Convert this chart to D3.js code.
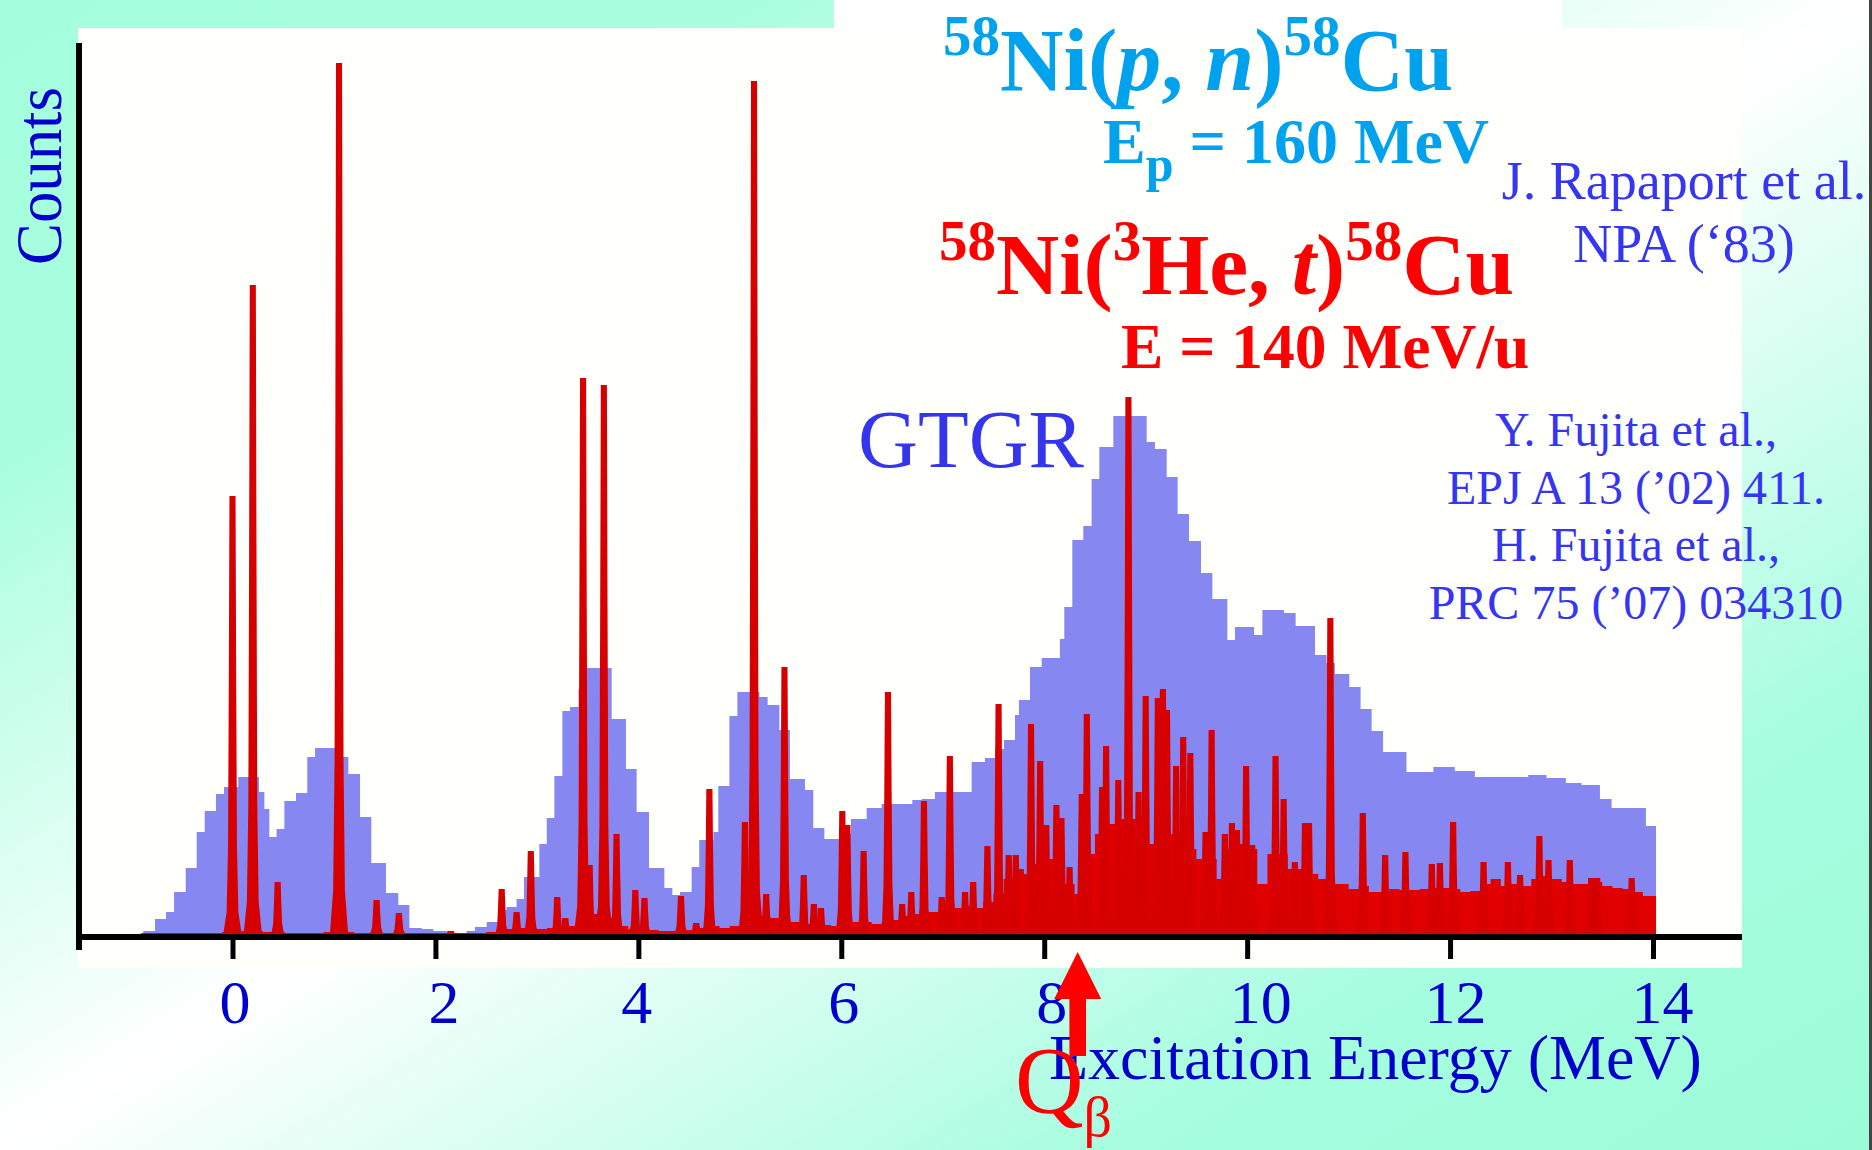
<!DOCTYPE html>
<html>
<head>
<meta charset="utf-8">
<title>58Ni(p,n) / 58Ni(3He,t) spectra</title>
<script src="https://cdn.jsdelivr.net/npm/d3@7"></script>
<style>
    html, body { margin: 0; padding: 0; background: #fff; }
    svg { display: block; font-family: "Liberation Serif", "Times New Roman", serif; }
    text { white-space: pre; }
</style>
</head>
<body>
<div id="chart"></div>
<script>
(function () {
    'use strict';

    // (p,n) histogram, step edges in MeV and the counts of each step
    var blueEdges = [-0.879, -0.764, -0.655, -0.576, -0.461, -0.353, -0.274, -0.163, -0.084, 0.057,
        0.261, 0.314, 0.363, 0.435, 0.511, 0.626, 0.737, 0.813, 1.01, 1.142,
        1.257, 1.368, 1.513, 1.634, 1.743, 1.865, 1.979, 2.11, 2.308, 2.39,
        2.505, 2.62, 2.70, 2.80, 2.873, 3.024, 3.097, 3.172, 3.251, 3.327,
        3.41, 3.49, 3.737, 3.878, 3.983, 4.105, 4.256, 4.335, 4.41, 4.525,
        4.6, 4.739, 4.788, 4.897, 4.976, 5.193, 5.274, 5.39, 5.494, 5.642,
        5.724, 5.833, 5.98, 6.095, 6.25, 6.398, 6.70, 6.792, 6.923, 7.285,
        7.416, 7.515, 7.603, 7.712, 7.751, 7.86, 7.975, 8.155, 8.198, 8.277,
        8.385, 8.467, 8.543, 8.681, 9.01, 9.092, 9.207, 9.315, 9.427, 9.545,
        9.657, 9.805, 9.88, 10.068, 10.15, 10.363, 10.478, 10.669, 10.783, 10.865,
        11.007, 11.118, 11.227, 11.34, 11.57, 11.835, 12.047, 12.245, 12.77, 12.951,
        13.141, 13.296, 13.477, 13.592, 13.93, 14.03];
    var blueCounts = [3, 15, 22, 42, 66, 102, 123, 140, 147, 157,
        142, 125, 97, 105, 133, 141, 177, 186, 177, 160,
        117, 71, 41, 29, 6, 5, 3, 1, 3, 7,
        12, 24, 27, 35, 57, 90, 116, 158, 223, 227,
        245, 266, 215, 165, 122, 66, 46, 39, 42, 67,
        94, 102, 148, 218, 242, 237, 229, 204, 155, 144,
        106, 95, 100, 115, 126, 130, 134, 135, 142, 172,
        176, 185, 194, 219, 234, 267, 276, 295, 327, 394,
        408, 455, 487, 518, 492, 485, 457, 420, 393, 361,
        335, 294, 307, 299, 324, 321, 308, 279, 271, 260,
        247, 225, 203, 182, 162, 167, 163, 157, 159, 156,
        151, 149, 135, 126, 108];

    // (3He,t) continuum in 0.1 MeV bins starting at -1.0 MeV
    var redFloorStart = -1.0;
    var redFloorBin = 0.1;
    var redEnd = 14.03;
    var redFloor = [0, 1, 1, 1, 1, 1, 1, 1, 1, 2,
        3, 3, 3, 2, 2, 1, 1, 1, 1, 2,
        3, 2, 1, 1, 1, 1, 1, 1, 1, 1,
        1, 1, 1, 1, 1, 2, 4, 5, 6, 6,
        5, 6, 7, 8, 16, 20, 20, 16, 8, 5,
        5, 4, 3, 3, 4, 4, 6, 8, 6, 8,
        14, 18, 18, 16, 15, 12, 10, 10, 9, 8,
        12, 12, 12, 10, 12, 14, 18, 20, 22, 22,
        25, 26, 28, 26, 32, 40, 55, 65, 60, 70,
        75, 70, 50, 40, 80, 100, 110, 115, 115, 105,
        90, 100, 100, 95, 85, 75, 75, 55, 85, 90,
        85, 50, 80, 80, 65, 65, 60, 55, 50, 50,
        45, 48, 42, 42, 45, 44, 44, 45, 46, 46,
        45, 42, 43, 50, 55, 48, 50, 48, 55, 58,
        55, 52, 50, 50, 52, 48, 46, 45, 42, 38];

    // (3He,t) sharp lines: [Ex in MeV, counts]
    var redPeaks = [
        [0.0, 438], [0.2, 649], [0.445, 52], [1.05, 871], [1.42, 34], [1.64, 21], [2.15, 3],
        [2.653, 45], [2.80, 22], [2.94, 83], [3.20, 37], [3.28, 16], [3.455, 556], [3.52, 69],
        [3.66, 549], [3.785, 100], [3.97, 44], [4.06, 36], [4.42, 38], [4.57, 11], [4.70, 145],
        [5.05, 112], [5.14, 853], [5.26, 40], [5.44, 267], [5.63, 59], [5.73, 30], [5.80, 26],
        [6.01, 123], [6.06, 109], [6.22, 83], [6.46, 242], [6.60, 30], [6.69, 42], [6.815, 133],
        [6.99, 37], [7.07, 178], [7.22, 42], [7.30, 52], [7.44, 88], [7.55, 230], [7.65, 79],
        [7.72, 79], [7.87, 210], [7.96, 173], [8.02, 109], [8.12, 129], [8.17, 116], [8.25, 67],
        [8.37, 140], [8.42, 220], [8.57, 147], [8.61, 188], [8.73, 154], [8.83, 537], [8.93, 142],
        [9.00, 238], [9.12, 236], [9.17, 245], [9.21, 224], [9.30, 168], [9.37, 197], [9.44, 181],
        [9.59, 102], [9.65, 204], [9.78, 100], [9.85, 111], [9.90, 104], [9.99, 168], [10.05, 89],
        [10.28, 178], [10.36, 135], [10.47, 72], [10.57, 111], [10.61, 111], [10.82, 316],
        [11.14, 121], [11.36, 79], [11.56, 82], [11.82, 70], [11.90, 71], [12.03, 112],
        [12.33, 72], [12.57, 72], [12.69, 59], [12.88, 98], [12.97, 74], [13.18, 74],
        [13.39, 56], [13.45, 56], [13.79, 56]];

    var tickValues = [0, 2, 4, 6, 8, 10, 12, 14];
    var qBeta = 8.33;

    var w = 1872,
        h = 1150;

    var x = d3.scaleLinear().domain([0, 14]).range([232.5, 1653]);
    var y = d3.scaleLinear().domain([0, 900]).range([934, 34]);

    var svg = d3.select("#chart").append("svg")
        .attr("width", w)
        .attr("height", h);

    // slide background
    var grad = svg.append("defs").append("linearGradient")
        .attr("id", "bg")
        .attr("x1", 0).attr("y1", 0)
        .attr("x2", 1).attr("y2", 1);
    [[0, "#a4fedd"], [0.2, "#a8fedf"], [0.5, "#ffffff"], [0.8, "#a6fde0"], [1, "#9cfcd7"]].forEach(function (s) {
        grad.append("stop").attr("offset", s[0]).attr("stop-color", s[1]);
    });
    svg.append("rect").attr("width", w).attr("height", h).attr("fill", "url(#bg)");
    svg.append("rect").attr("x", 834).attr("y", 0).attr("width", 728).attr("height", 40).attr("fill", "#ffffff");
    svg.append("rect").attr("x", 78).attr("y", 28).attr("width", 1664).attr("height", 940).attr("fill", "#fffffc");
    svg.append("rect").attr("x", 1869).attr("y", 0).attr("width", 3).attr("height", h).attr("fill", "#444");

    // blue (p,n) histogram
    var blueData = blueEdges.map(function (e, i) {
        return { e: e, c: i < blueCounts.length ? blueCounts[i] : 0 };
    });
    var stepArea = d3.area()
        .x(function (d) { return x(d.e); })
        .y0(y(0))
        .y1(function (d) { return y(d.c); })
        .curve(d3.curveStepAfter);

    svg.append("path")
        .datum(blueData)
        .attr("d", stepArea)
        .attr("fill", "#8787f2");

    // red (3He,t) continuum
    var floorData = redFloor.map(function (v, i) {
        return { e: redFloorStart + i * redFloorBin, c: v };
    });
    floorData.push({ e: redEnd, c: 0 });

    svg.append("path")
        .datum(floorData)
        .attr("d", stepArea)
        .attr("fill", "#e00000");

    // red lines: narrow towers, [height fraction, half width in MeV]
    var peakProfile = [[0, 0.09], [0.05, 0.058], [0.2, 0.044], [0.6, 0.036], [1, 0.03]];
    var poly = d3.line()
        .x(function (p) { return x(p[0]); })
        .y(function (p) { return y(p[1]); });

    svg.append("g").selectAll("path")
        .data(redPeaks)
        .enter().append("path")
        .attr("d", function (d) {
            var left = peakProfile.map(function (p) { return [d[0] - p[1], p[0] * d[1]]; });
            var right = peakProfile.slice().reverse().map(function (p) { return [d[0] + p[1], p[0] * d[1]]; });
            return poly(left.concat(right)) + "Z";
        })
        .attr("fill", "#d60000");

    // axes
    svg.append("line")
        .attr("x1", 78).attr("x2", 1742)
        .attr("y1", 937).attr("y2", 937)
        .attr("stroke", "#000").attr("stroke-width", 6);
    svg.append("line")
        .attr("x1", 79).attr("x2", 79)
        .attr("y1", 43).attr("y2", 950)
        .attr("stroke", "#000").attr("stroke-width", 6);

    var tickNudge = [2, 8, -2, 2, 7, 13, 5, 9];
    var gx = svg.append("g")
        .attr("transform", "translate(0,937)")
        .call(d3.axisBottom(x).tickValues(tickValues).tickSize(22).tickFormat(d3.format("d")));
    gx.attr("font-family", null).attr("font-size", null);
    gx.select(".domain").remove();
    gx.selectAll(".tick line").attr("stroke", "#000").attr("stroke-width", 5);
    gx.selectAll(".tick text")
        .attr("y", 86)
        .attr("dy", null)
        .attr("x", function (d, i) { return tickNudge[i]; })
        .attr("fill", "#0000cc")
        .attr("font-size", 62);

    svg.append("text")
        .attr("x", 1049)
        .attr("y", 1079)
        .attr("font-size", 64)
        .attr("fill", "#0000cc")
        .text("Excitation Energy (MeV)");

    svg.append("text")
        .attr("transform", "translate(61,176) rotate(-90)")
        .attr("text-anchor", "middle")
        .attr("font-size", 66)
        .attr("textLength", 178)
        .attr("lengthAdjust", "spacingAndGlyphs")
        .attr("fill", "#0000cc")
        .text("Counts");

    // titles with super/subscripts
    function rich(x0, y0, size, color, weight, runs) {
        var t = svg.append("text")
            .attr("x", x0).attr("y", y0)
            .attr("font-size", size)
            .attr("font-weight", weight)
            .attr("fill", color);
        var shift = 0;
        runs.forEach(function (r) {
            var s = t.append("tspan").text(r.t);
            var target = r.shift || 0;
            if (target !== shift) {
                s.attr("dy", target - shift);
                shift = target;
            }
            if (r.size) s.attr("font-size", r.size);
            if (r.it) s.attr("font-style", "italic");
        });
        return t;
    }

    var cyan = "#00a2ee",
        red = "#ff0000",
        cite = "#3636f2";

    rich(943, 90, 88, cyan, "bold", [
        { t: "58", size: 57, shift: -35 }, { t: "Ni(" }, { t: "p", it: true }, { t: ", " },
        { t: "n", it: true }, { t: ")" }, { t: "58", size: 57, shift: -35 }, { t: "Cu" }]);
    rich(1103, 163, 64, cyan, "bold", [
        { t: "E" }, { t: "p", size: 50, shift: 18 }, { t: " = 160 MeV" }]);
    rich(939, 294, 87.5, red, "bold", [
        { t: "58", size: 57, shift: -34 }, { t: "Ni(" }, { t: "3", size: 57, shift: -34 }, { t: "He, " },
        { t: "t", it: true }, { t: ")" }, { t: "58", size: 57, shift: -34 }, { t: "Cu" }]);
    rich(1121, 368, 63.5, red, "bold", [{ t: "E = 140 MeV/u" }]);

    svg.append("text")
        .attr("x", 858).attr("y", 467)
        .attr("font-size", 83)
        .attr("fill", "#3535ee")
        .text("GTGR");

    var refs = svg.append("g")
        .attr("fill", cite)
        .attr("text-anchor", "middle");
    refs.append("text").attr("x", 1684).attr("y", 199).attr("font-size", 54).text("J. Rapaport et al.");
    refs.append("text").attr("x", 1684).attr("y", 262).attr("font-size", 54).text("NPA (\u201883)");
    ["Y. Fujita et al.,", "EPJ A 13 (\u201902) 411.", "H. Fujita et al.,", "PRC 75 (\u201907) 034310"]
        .forEach(function (s, i) {
            refs.append("text")
                .attr("x", 1636)
                .attr("y", 446 + i * 57.7)
                .attr("font-size", 48)
                .text(s);
        });

    // Q-beta marker
    var xq = x(qBeta);
    svg.append("path")
        .attr("d", d3.line()([
            [xq, 952], [xq + 23.5, 999], [xq + 8.3, 999], [xq + 8.3, 1056],
            [xq - 8.3, 1056], [xq - 8.3, 999], [xq - 23.5, 999]]) + "Z")
        .attr("fill", red);
    rich(1015, 1113, 95, red, "normal", [{ t: "Q" }, { t: "\u03b2", size: 56, shift: 23 }]);
})();
</script>
</body>
</html>
